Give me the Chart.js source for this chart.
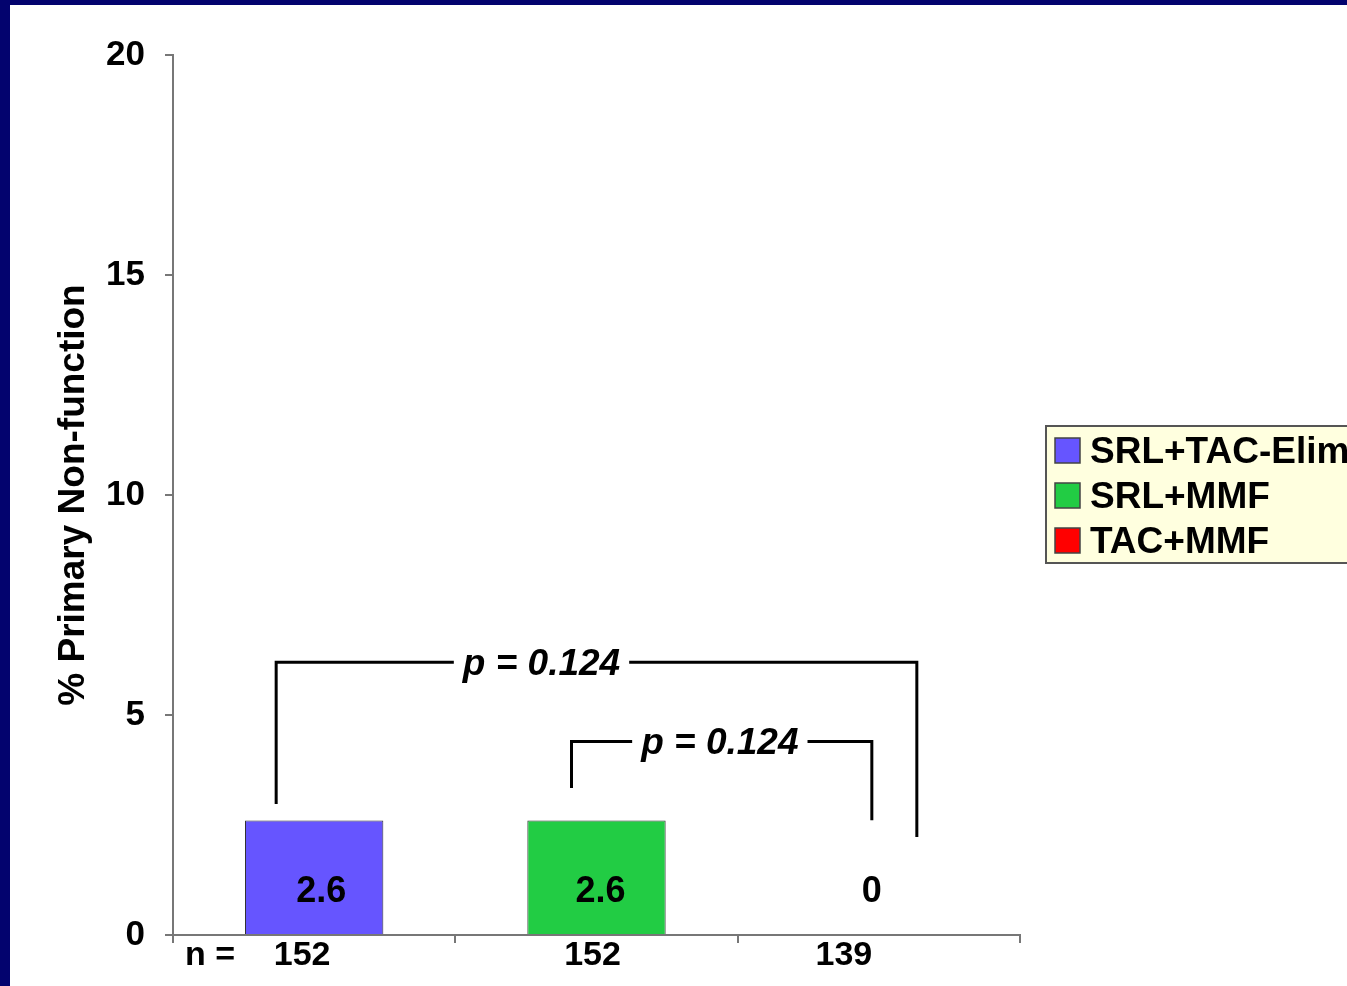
<!DOCTYPE html>
<html>
<head>
<meta charset="utf-8">
<style>
  html, body { margin: 0; padding: 0; background: #ffffff; overflow: hidden; }
  #wrap { width: 1347px; height: 986px; position: relative; }
  canvas { display: block; }
</style>
<script src="https://cdn.jsdelivr.net/npm/chart.js@4/dist/chart.umd.min.js"></script>
</head>
<body>
<div id="wrap"><canvas id="c" width="1347" height="986"></canvas></div>
<script>
// Primary non-function rate per treatment arm
const categories = ['SRL+TAC-Elim', 'SRL+MMF', 'TAC+MMF'];
const values = [2.6, 2.6, 0];
const sampleSizes = ['152', '152', '139'];
const yTicks = [0, 5, 10, 15, 20];
const pValues = ['p = 0.124', 'p = 0.124'];
const colors = ['#6655FF', '#22CC44', '#FF0000'];
const yTitle = '% Primary Non-function';
const nPrefix = 'n =';

const FONT = '"Liberation Sans", Arial, Helvetica, sans-serif';

const decor = {
  id: 'decor',
  beforeDraw(chart) {
    const ctx = chart.ctx;
    ctx.save();
    ctx.fillStyle = '#ffffff';
    ctx.fillRect(0, 0, chart.width, chart.height);
    ctx.restore();
  },
  afterDraw(chart) {
    const ctx = chart.ctx;
    const xs = chart.scales.x;
    const ys = chart.scales.y;
    const area = chart.chartArea;
    const cx = i => xs.getPixelForValue(i);
    const py = v => ys.getPixelForValue(v);

    ctx.save();

    // slide frame
    ctx.fillStyle = '#03036E';
    ctx.fillRect(0, 0, chart.width, 5);
    ctx.fillRect(0, 0, 10, chart.height);

    // y axis title
    ctx.save();
    ctx.fillStyle = '#000';
    ctx.font = 'bold 37px ' + FONT;
    ctx.textAlign = 'center';
    ctx.textBaseline = 'alphabetic';
    ctx.translate(84, (area.top + area.bottom) / 2);
    ctx.rotate(-Math.PI / 2);
    ctx.fillText(yTitle, 0, 0);
    ctx.restore();

    // value labels inside / above bars
    const valueShift = [7, 4, -7];
    ctx.fillStyle = '#000';
    ctx.font = 'bold 36px ' + FONT;
    ctx.textAlign = 'center';
    ctx.textBaseline = 'alphabetic';
    values.forEach((v, i) => {
      ctx.fillText(String(v), cx(i) + valueShift[i], area.bottom - 33);
    });

    // sample sizes under the axis
    const nShift = [-12, -4, -35];
    ctx.font = 'bold 34px ' + FONT;
    ctx.textAlign = 'left';
    ctx.fillText(nPrefix, area.left + 12, area.bottom + 30);
    ctx.textAlign = 'center';
    sampleSizes.forEach((n, i) => {
      ctx.fillText(n, cx(i) + nShift[i], area.bottom + 30);
    });

    // significance brackets
    const brackets = [
      { left: cx(0) - 38, right: cx(2) + 38, top: 6.2, footL: 2.98, footR: 2.23, textX: cx(1) - 55, text: pValues[0] },
      { left: cx(1) - 25, right: cx(2) - 7, top: 4.4, footL: 3.34, footR: 2.61, textX: cx(2) - 159, text: pValues[1] }
    ];
    ctx.font = 'italic bold 37px ' + FONT;
    ctx.strokeStyle = '#000';
    ctx.lineWidth = 3;
    ctx.lineJoin = 'miter';
    ctx.lineCap = 'butt';
    brackets.forEach(b => {
      const yTop = py(b.top);
      const w = ctx.measureText(b.text).width;
      const gapL = b.textX - w / 2 - 9;
      const gapR = b.textX + w / 2 + 9;
      ctx.beginPath();
      ctx.moveTo(b.left, py(b.footL));
      ctx.lineTo(b.left, yTop);
      ctx.lineTo(gapL, yTop);
      ctx.stroke();
      ctx.beginPath();
      ctx.moveTo(gapR, yTop);
      ctx.lineTo(b.right, yTop);
      ctx.lineTo(b.right, py(b.footR));
      ctx.stroke();
      ctx.textAlign = 'center';
      ctx.fillText(b.text, b.textX, yTop + 13);
    });

    // legend box
    const lx = 1046, ly = 426, lh = 137;
    ctx.fillStyle = '#FFFFDF';
    ctx.fillRect(lx, ly, chart.width - lx + 20, lh);
    ctx.strokeStyle = '#555';
    ctx.lineWidth = 2;
    ctx.strokeRect(lx, ly, chart.width - lx + 20, lh);
    ctx.font = 'bold 37px ' + FONT;
    ctx.textAlign = 'left';
    categories.forEach((label, i) => {
      const sy = 438 + i * 45;
      ctx.fillStyle = colors[i];
      ctx.fillRect(1055, sy, 25, 25);
      ctx.strokeStyle = '#444';
      ctx.lineWidth = 1.5;
      ctx.strokeRect(1055, sy, 25, 25);
      ctx.fillStyle = '#000';
      ctx.fillText(label, 1090, sy + 25);
    });

    ctx.restore();
  }
};

new Chart(document.getElementById('c'), {
  type: 'bar',
  data: {
    labels: categories,
    datasets: [{
      label: 'Primary Non-function',
      data: values,
      backgroundColor: colors,
      borderColor: '#333333',
      borderWidth: 1,
      barPercentage: 0.49,
      categoryPercentage: 1.0
    }]
  },
  options: {
    responsive: false,
    animation: false,
    devicePixelRatio: 1,
    layout: { padding: { left: 0, top: 55, right: 327, bottom: 43 } },
    plugins: {
      legend: { display: false },
      tooltip: { enabled: false },
      title: { display: false }
    },
    scales: {
      x: {
        type: 'category',
        offset: true,
        grid: {
          offset: true,
          drawOnChartArea: false,
          drawTicks: true,
          tickLength: 8,
          color: '#777',
          lineWidth: 2
        },
        border: { display: true, color: '#777', width: 2 },
        ticks: { display: false },
        afterFit(scale) { scale.height = 8; }
      },
      y: {
        min: 0,
        max: 20,
        afterBuildTicks(scale) { scale.ticks = yTicks.map(v => ({ value: v })); },
        grid: {
          drawOnChartArea: false,
          drawTicks: true,
          tickLength: 8,
          color: '#777',
          lineWidth: 2
        },
        border: { display: true, color: '#777', width: 2 },
        ticks: {
          color: '#000',
          padding: 20,
          font: { family: FONT, size: 35, weight: 'bold' }
        },
        afterFit(scale) { scale.width = 173; }
      }
    }
  },
  plugins: [decor]
});
</script>
</body>
</html>
